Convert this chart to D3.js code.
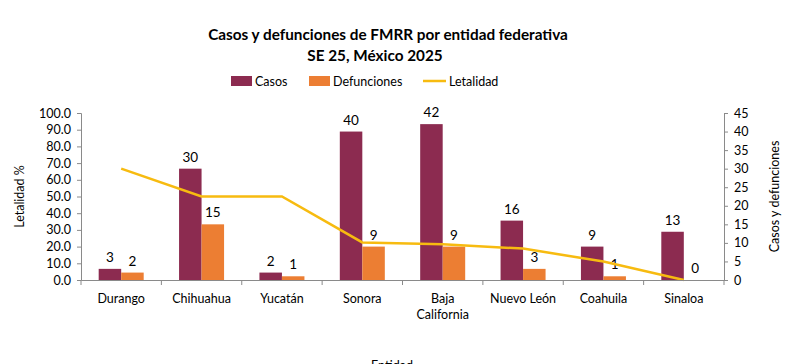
<!DOCTYPE html>
<html>
<head>
<meta charset="utf-8">
<script src="https://cdn.jsdelivr.net/npm/d3@7"></script>
<style>
  body { margin: 0; background: #fff; }
  svg { font-family: Lato, "Open Sans", sans-serif; }
</style>
</head>
<body>
<div id="chart"></div>
<script>
const entidades = ['Durango', 'Chihuahua', 'Yucatán', 'Sonora', 'Baja California', 'Nuevo León', 'Coahuila', 'Sinaloa']
const casos = [3, 30, 2, 40, 42, 16, 9, 13]
const defunciones = [2, 15, 1, 9, 9, 3, 1, 0]
const letalidad = [66.7, 50.0, 50.0, 22.5, 21.4, 18.8, 11.1, 0.0]
const leftTicks = [0, 10, 20, 30, 40, 50, 60, 70, 80, 90, 100]
const rightTicks = [0, 5, 10, 15, 20, 25, 30, 35, 40, 45]

const width = 800
const height = 364
const plotLeft = 81
const plotRight = 724
const plotTop = 113
const plotBottom = 280

const colCasos = '#8c2b50'
const colDef = '#ec7e33'
const colLet = '#f7bb10'
const axisCol = '#8a8a8a'

const svg = d3.select('#chart')
    .append('svg')
    .attr('width', width)
    .attr('height', height)

const x0 = d3.scaleBand().domain(entidades).range([plotLeft, plotRight])
const bw = x0.bandwidth()
const x1 = d3.scaleBand().domain(['casos', 'def']).range([bw * 0.22, bw * 0.78])
const yLeft = d3.scaleLinear().domain([0, 100]).range([plotBottom, plotTop])
const yRight = d3.scaleLinear().domain([0, 45]).range([plotBottom, plotTop])

// titles
svg.append('text')
    .attr('x', 388).attr('y', 40)
    .attr('text-anchor', 'middle')
    .style('font-size', '15.3px').style('font-weight', 'bold')
    .text('Casos y defunciones de FMRR por entidad federativa')
svg.append('text')
    .attr('x', 375).attr('y', 61)
    .attr('text-anchor', 'middle')
    .style('font-size', '15.3px').style('font-weight', 'bold')
    .text('SE 25, México 2025')

// legend
const legend = svg.append('g').style('font-size', '12.5px')
legend.append('rect').attr('x', 231).attr('y', 76).attr('width', 21).attr('height', 10).attr('fill', colCasos)
legend.append('text').attr('x', 255).attr('y', 86).text('Casos')
legend.append('rect').attr('x', 309).attr('y', 76).attr('width', 21).attr('height', 10).attr('fill', colDef)
legend.append('text').attr('x', 333).attr('y', 86).text('Defunciones')
legend.append('line').attr('x1', 423).attr('x2', 446).attr('y1', 81).attr('y2', 81)
    .attr('stroke', colLet).attr('stroke-width', 2.5)
legend.append('text').attr('x', 449).attr('y', 86).text('Letalidad')

// bars
const groups = svg.selectAll('g.grp')
    .data(entidades)
    .enter()
    .append('g')
    .attr('class', 'grp')
    .attr('transform', (d) => `translate(${x0(d)},0)`)

groups.append('rect')
    .attr('x', x1('casos'))
    .attr('y', (d, i) => yRight(casos[i]))
    .attr('width', x1.bandwidth())
    .attr('height', (d, i) => plotBottom - yRight(casos[i]))
    .attr('fill', colCasos)
groups.append('rect')
    .attr('x', x1('def'))
    .attr('y', (d, i) => yRight(defunciones[i]))
    .attr('width', x1.bandwidth())
    .attr('height', (d, i) => plotBottom - yRight(defunciones[i]))
    .attr('fill', colDef)

// line
const line = d3.line()
    .x((d, i) => x0(entidades[i]) + bw / 2)
    .y((d) => yLeft(d))
svg.append('path')
    .datum(letalidad)
    .attr('d', line)
    .attr('fill', 'none')
    .attr('stroke', colLet)
    .attr('stroke-width', 2.5)

// value labels
groups.append('text')
    .attr('x', x1('casos') + x1.bandwidth() / 2)
    .attr('y', (d, i) => yRight(casos[i]) - 7)
    .attr('text-anchor', 'middle')
    .style('font-size', '13.5px')
    .text((d, i) => casos[i])
groups.append('text')
    .attr('x', x1('def') + x1.bandwidth() / 2)
    .attr('y', (d, i) => yRight(defunciones[i]) - 7)
    .attr('text-anchor', 'middle')
    .style('font-size', '13.5px')
    .text((d, i) => defunciones[i])

// axes
const axL = svg.append('g')
    .attr('transform', `translate(${plotLeft},0)`)
    .call(d3.axisLeft(yLeft).tickValues(leftTicks).tickFormat(d3.format('.1f')).tickSize(4).tickPadding(6))
const axR = svg.append('g')
    .attr('transform', `translate(${plotRight},0)`)
    .call(d3.axisRight(yRight).tickValues(rightTicks).tickSize(4).tickPadding(6))
const axB = svg.append('g')
    .attr('transform', `translate(0,${plotBottom})`)
    .call(d3.axisBottom(x0).tickSize(0).tickPadding(14))

;[axL, axR, axB].forEach((a) => {
    a.select('.domain').attr('stroke', axisCol)
    a.selectAll('.tick line').attr('stroke', axisCol)
    a.selectAll('text').style('font-family', 'Lato, "Open Sans", sans-serif').style('font-size', '12.5px').attr('fill', '#000')
})

// category boundary ticks
axB.selectAll('line.bound')
    .data(entidades.concat(['end']))
    .enter()
    .append('line')
    .attr('class', 'bound')
    .attr('x1', (d) => d === 'end' ? plotRight : x0(d))
    .attr('x2', (d) => d === 'end' ? plotRight : x0(d))
    .attr('y1', 0).attr('y2', 5)
    .attr('stroke', axisCol)

// wrap Baja California
axB.selectAll('.tick text').each(function (d) {
    if (d === 'Baja California') {
        const t = d3.select(this)
        t.text(null)
        t.append('tspan').attr('x', 0).text('Baja')
        t.append('tspan').attr('x', 0).attr('dy', '1.25em').text('California')
    }
})

// axis titles
svg.append('text')
    .attr('transform', `translate(24,${(plotTop + plotBottom) / 2}) rotate(-90)`)
    .attr('text-anchor', 'middle')
    .style('font-size', '12.5px')
    .text('Letalidad %')
svg.append('text')
    .attr('transform', `translate(779,${(plotTop + plotBottom) / 2}) rotate(-90)`)
    .attr('text-anchor', 'middle')
    .style('font-size', '12.5px')
    .text('Casos y defunciones')
svg.append('text')
    .attr('x', 392).attr('y', 370)
    .attr('text-anchor', 'middle')
    .style('font-size', '12.5px')
    .text('Entidad')
</script>
</body>
</html>
